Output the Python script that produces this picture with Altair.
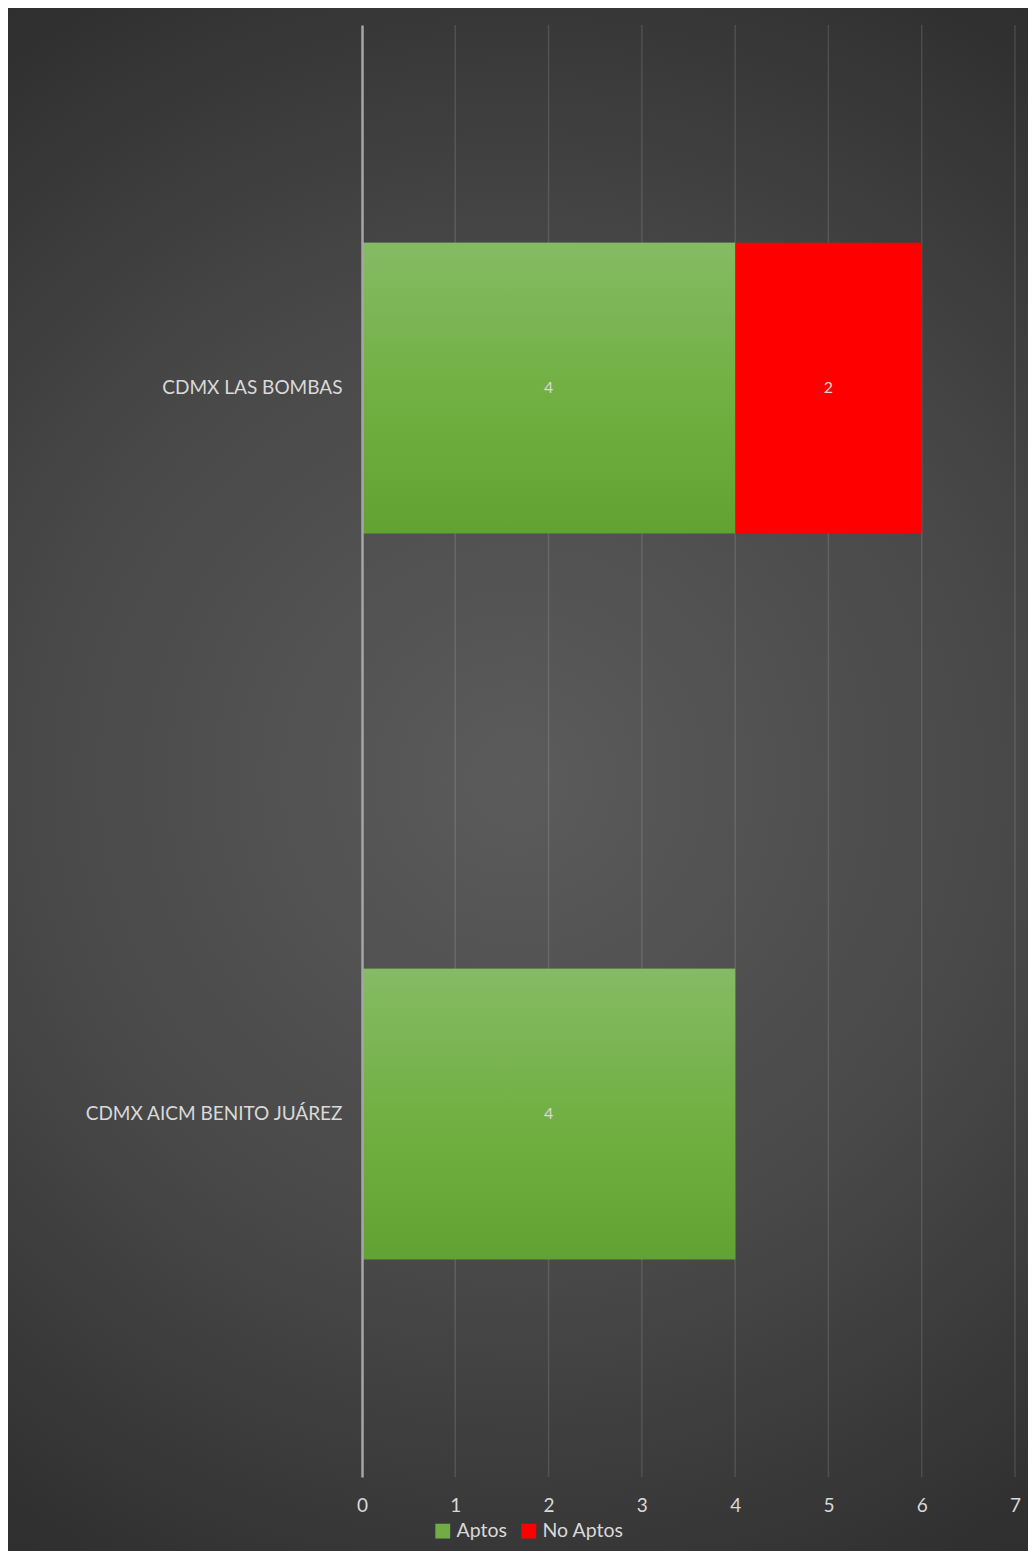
import altair as alt
import pandas as pd

categories = ["CDMX LAS BOMBAS", "CDMX AICM BENITO JUÁREZ"]
aptos = [4, 4]
no_aptos = [2, 0]
series = ["Aptos", "No Aptos"]
x_ticks = [0, 1, 2, 3, 4, 5, 6, 7]

rows = []
for c, a, n in zip(categories, aptos, no_aptos):
    rows.append({"cat": c, "serie": "Aptos", "start": 0, "end": a, "val": a})
    if n > 0:
        rows.append({"cat": c, "serie": "No Aptos", "start": a, "end": a + n, "val": n})
df = pd.DataFrame(rows)
df["mid"] = (df["start"] + df["end"]) / 2

W, H = 653, 1452
PL, PT, PR, PB = 354, 17, 13, 74
FONT = "Lato"
TXT = "#d9d9d9"

bg = alt.Chart(pd.DataFrame({"a": [0]})).mark_rect(
    fill={"gradient": "radial", "x1": 0.5, "y1": 0.5, "x2": 0.5, "y2": 0.5,
          "r1": 0, "r2": 0.72,
          "stops": [{"offset": 0, "color": "#5b5b5b"},
                    {"offset": 0.45, "color": "#484848"},
                    {"offset": 0.8, "color": "#303030"},
                    {"offset": 1, "color": "#282828"}]},
    strokeWidth=0,
).encode(
    x=alt.value(-PL), x2=alt.value(W + PR), y=alt.value(-PT), y2=alt.value(H + PB)
)

grid = alt.Chart(pd.DataFrame({"t": x_ticks[1:]})).mark_rule(
    color="#ffffff", opacity=0.12, strokeWidth=1.5
).encode(x=alt.X("t:Q"))

yenc = alt.Y("cat:N", sort=categories, title=None,
             scale=alt.Scale(paddingInner=0.6, paddingOuter=0.3),
             axis=alt.Axis(ticks=False, labelColor=TXT, labelFontSize=19, labelFont=FONT,
                           labelPadding=20, labelLimit=340, domainColor="#a6a6a6",
                           domainWidth=2.5, grid=False, zindex=1))
xenc = alt.X("start:Q", title=None,
             scale=alt.Scale(domain=[0, 7], nice=False),
             axis=alt.Axis(values=x_ticks, format="d", ticks=False, domain=False,
                           labelColor=TXT, labelFontSize=19, labelFont=FONT,
                           labelPadding=19, labelFlush=False, grid=False, zindex=1))

bars = alt.Chart(df).mark_bar().encode(
    y=yenc,
    x=xenc,
    x2="end:Q",
    color=alt.Color("serie:N", scale=alt.Scale(domain=series, range=["#70ad47", "#ff0000"]),
                    legend=alt.Legend(title=None, orient="none", direction="horizontal",
                                      legendX=71, legendY=1496, symbolType="square",
                                      symbolSize=220, symbolStrokeWidth=0,
                                      labelColor=TXT, labelFontSize=19.5, labelFont=FONT,
                                      columnPadding=12, labelOffset=4, zindex=1)),
)

green = alt.Chart(df).transform_filter(alt.datum.serie == "Aptos").mark_bar(
    fill={"gradient": "linear", "x1": 0, "y1": 0, "x2": 0, "y2": 1,
          "stops": [{"offset": 0, "color": "#85bb65"},
                    {"offset": 0.5, "color": "#72b043"},
                    {"offset": 1, "color": "#62a232"}]}
).encode(y=alt.Y("cat:N", sort=categories), x="start:Q", x2="end:Q")

labels = alt.Chart(df).mark_text(color=TXT, fontSize=16, font=FONT).encode(
    y=alt.Y("cat:N", sort=categories), x="mid:Q", text="val:Q"
)

chart = alt.layer(bg, grid, bars, green, labels).properties(
    width=W, height=H,
    autosize=alt.AutoSizeParams(type="none"),
    padding={"left": PL, "top": PT, "right": PR, "bottom": PB},
    background="#2a2a2a",
).configure_view(stroke=None)

chart.save("out.html", embed_options={"renderer": "svg", "actions": False})
